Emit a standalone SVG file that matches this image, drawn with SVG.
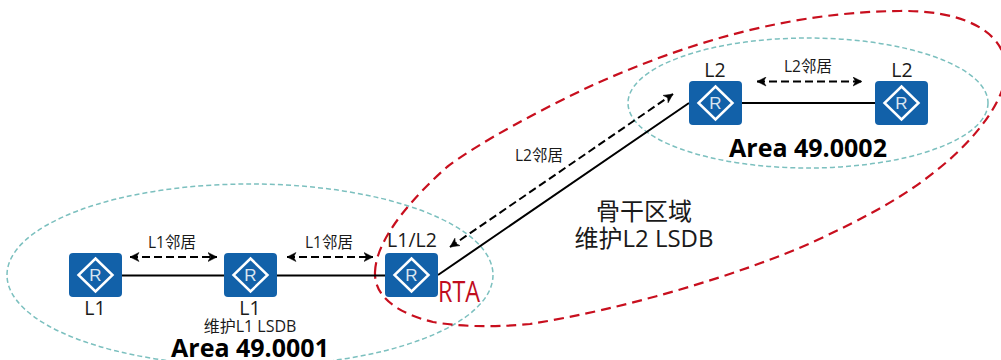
<svg xmlns="http://www.w3.org/2000/svg" width="1001" height="360" viewBox="0 0 1001 360">
<style>
text{font-family:"Open Sans","Noto Sans CJK SC",sans-serif;fill:#1a1a1a}
.t{text-anchor:middle;font-size:19.500px}
.s{text-anchor:middle;font-size:15.500px}
.m{text-anchor:middle;font-size:16px}
.a{text-anchor:middle;font-size:25px;font-weight:700;fill:#000}
.b{text-anchor:middle;font-size:24px}
.rt{fill:#1261a9}
.dia{fill:none;stroke:#fff;stroke-width:2.500}
.rr{font-family:"Liberation Sans",sans-serif;font-size:17px;fill:#fff;text-anchor:middle;fill-opacity:.85}
.link{stroke:#000;stroke-width:2;fill:none}
.adj{stroke:#000;stroke-width:2;stroke-dasharray:8 4;fill:none;marker-start:url(#ah);marker-end:url(#ah)}
.teal{fill:none;stroke:#7cc0bf;stroke-width:1.500;stroke-dasharray:5 3}
.red{fill:none;stroke:#c80f1e;stroke-width:2.200;stroke-dasharray:10 6}
</style>
<defs>
<marker id="ah" viewBox="0 0 10 10" refX="9.500" refY="5" markerWidth="10" markerHeight="10" markerUnits="userSpaceOnUse" orient="auto-start-reverse">
<path d="M0.500 0.500 L9.500 5 L0.500 9.500 L3 5 Z" fill="#000" stroke="#000" stroke-width="0.500"/>
</marker>
<g id="router">
<rect width="53" height="44" rx="4" class="rt"/>
<path d="M26.500 5.500 L43.500 22 L26.500 38.500 L9.500 22 Z" class="dia"/>
<text x="26.500" y="28" class="rr">R</text>
</g>
</defs>
<ellipse id="area1-boundary" cx="250" cy="275" rx="243" ry="91" class="teal"/>
<ellipse id="area2-boundary" cx="808" cy="103" rx="180" ry="65" class="teal"/>
<path id="backbone-boundary" class="red" d="M375 272 C376 240 410 200 447 167 C480 142 540 110 593 85 C660 55 770 12 900 11 C960 10 1006 30 1006 70 C1006 100 975 140 937 170 C900 200 860 220 813 242 C740 275 620 310 530 324 C490 328 455 326 433 322 C400 314 374 298 375 272 Z"/>
<g id="connectors">
<path class="link" d="M122 275.500H224M277 275.500H385M438 275 L689 103M742 103H875"/>
<path class="adj" d="M130 257H217"/>
<path class="adj" d="M287 257H373"/>
<path class="adj" d="M450 247 L673 94"/>
<path class="adj" d="M757 81.500H862"/>
</g>
<g id="r1"><use href="#router" x="69" y="253"/><text x="95" y="315" class="t">L1</text></g>
<g id="r2"><use href="#router" x="224" y="253"/><text x="250" y="315" class="t">L1</text></g>
<g id="r3"><use href="#router" x="385" y="253"/><text x="412" y="247" class="t">L1/L2</text></g>
<g id="r4"><use href="#router" x="689" y="81"/><text x="715" y="77" class="t">L2</text></g>
<g id="r5"><use href="#router" x="875" y="81"/><text x="902" y="77" class="t">L2</text></g>
<text x="172" y="248" class="s">L1邻居</text>
<text x="329" y="248" class="s">L1邻居</text>
<text x="539" y="161" class="s">L2邻居</text>
<text x="808" y="72" class="s">L2邻居</text>
<text x="250" y="332" class="m">维护L1 LSDB</text>
<text x="250" y="357" class="a">Area 49.0001</text>
<text x="808" y="157" class="a">Area 49.0002</text>
<text x="644" y="220" class="b">骨干区域</text>
<text x="644" y="247" class="b">维护L2 LSDB</text>
<text x="459" y="302" textLength="42" lengthAdjust="spacingAndGlyphs" style="text-anchor:middle;font-size:29px;fill:#c00d1e">RTA</text>
</svg>
